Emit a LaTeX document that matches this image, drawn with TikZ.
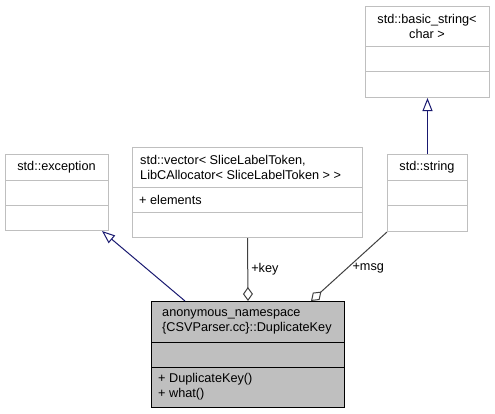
\documentclass[tikz,border=0pt]{standalone}
\usepackage{fontspec}
\setmainfont{Liberation Sans}
\usetikzlibrary{arrows.meta}
\definecolor{grey75}{HTML}{BFBFBF}
\definecolor{grey25}{HTML}{404040}
\definecolor{midnightblue}{HTML}{191970}
\begin{document}
\begin{tikzpicture}[x=1pt,y=-1pt]
\tikzstyle{classbox}=[draw=grey75,line width=1pt,fill=white,shape=rectangle,inner sep=0pt,anchor=north west];
\tikzstyle{mainbox}=[classbox,draw=black,fill=grey75];
\tikzstyle{sep}=[draw=grey75,line width=1pt];
\tikzstyle{txt}=[inner sep=0pt,font=\fontsize{12.7}{15}\selectfont];
\tikzstyle{inherit}=[draw=midnightblue,line width=1pt,-{Triangle[open,length=13pt,width=10pt]}];
\tikzstyle{member}=[draw=grey25,line width=1pt,-{Diamond[open,length=14pt,width=10pt]}];
\useasboundingbox (0,0) rectangle (495,413);
% std::exception
\node[classbox,minimum width=103pt,minimum height=76pt] (exc) at (5,154) {};
\draw[sep] (5,180) -- (108,180) (5,205) -- (108,205);
\node[txt] (excname) at (56.5,167) {std::exception};
% std::vector
\node[classbox,minimum width=230pt,minimum height=90pt] (vec) at (132,147) {};
\draw[sep] (132,187) -- (362,187) (132,212) -- (362,212);
\node[txt,anchor=west,align=left] (vecname) at (140,167) {std::vector< SliceLabelToken,\\LibCAllocator< SliceLabelToken > >};
\node[txt,anchor=west] (vecattr) at (139,199.5) {+ elements};
% std::basic_string
\node[classbox,minimum width=124pt,minimum height=91pt] (bas) at (365,6) {};
\draw[sep] (365,46) -- (489,46) (365,71) -- (489,71);
\node[txt,align=center] (basname) at (427,26) {std::basic\_string<\\char >};
% std::string
\node[classbox,minimum width=80pt,minimum height=77pt] (str) at (387,154) {};
\draw[sep] (387,180) -- (467,180) (387,205) -- (467,205);
\node[txt] (strname) at (427,167) {std::string};
% DuplicateKey
\node[mainbox,minimum width=193pt,minimum height=106pt] (dup) at (151,301) {};
\draw[line width=1pt] (151,342) -- (344,342) (151,367) -- (344,367);
\node[txt,anchor=west,align=left] (dupname) at (162,321.5) {anonymous\_namespace\\\{CSVParser.cc\}::DuplicateKey};
\node[txt,anchor=west,align=left] (dupops) at (158,387) {+ DuplicateKey()\\+ what()};
% edges
\draw[inherit] ([xshift=34pt]dup.north west) -- ([xshift=-7pt]exc.south east);
\draw[inherit] (str.north) -- (bas.south);
\draw[member] (vec.south) -- (dup.north) node[txt,pos=0.5,anchor=west,xshift=3pt] {+key};
\draw[member] (str.south west) -- ([xshift=160pt]dup.north west) node[txt,pos=0.5,anchor=west,xshift=3pt,yshift=-2pt] {+msg};
\end{tikzpicture}
\end{document}
